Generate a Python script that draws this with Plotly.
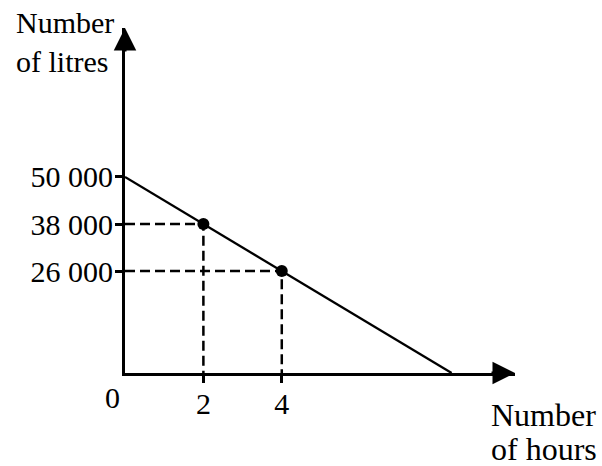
import plotly.graph_objects as go

# values
line_hours = [0, 8.333]
line_litres = [50000, 0]
pt_hours = [2, 4]
pt_litres = [38000, 26000]
y_ticks = [50000, 38000, 26000]
y_ticktext = ["50 000", "38 000", "26 000"]
x_ticks = [2, 4]
x_ticktext = ["2", "4"]

W, H = 602, 466
L, R, T, B = 125, 87, 28, 93
XMAX, YMAX = 9.95, 88000
FONT = "Liberation Serif"


def px(x):
    return (x - L) / (W - L - R)


def py(y):
    return (H - B - y) / (H - T - B)


fig = go.Figure()

# dashed guides from the axes to the two marked points
for h, v in zip(pt_hours, pt_litres):
    fig.add_trace(go.Scatter(x=[0, h, h], y=[v, v, 0], mode="lines",
                             line=dict(color="black", width=2.5, dash="10px,5px")))

fig.add_trace(go.Scatter(x=line_hours, y=line_litres, mode="lines",
                         line=dict(color="black", width=2.3)))
fig.add_trace(go.Scatter(x=pt_hours, y=pt_litres, mode="markers",
                         marker=dict(color="black", size=12)))

axis_common = dict(showgrid=False, zeroline=False, showline=True, linecolor="black",
                   linewidth=3, ticks="outside", ticklen=7, tickwidth=2.5,
                   tickcolor="black", tickfont=dict(family=FONT, size=30, color="black"))

fig.update_xaxes(range=[0, XMAX], tickvals=x_ticks, ticktext=x_ticktext,
                 ticklabelstandoff=-5, **axis_common)
fig.update_yaxes(range=[0, YMAX], tickvals=y_ticks, ticktext=y_ticktext,
                 ticklabelstandoff=-4, **axis_common)

# arrow heads on the axes
fig.add_annotation(x=XMAX, y=0, ax=-25, ay=0, text="", showarrow=True,
                   arrowhead=2, arrowsize=1.5, arrowwidth=3, arrowcolor="black")
fig.add_annotation(x=0, y=YMAX, ax=0, ay=25, text="", showarrow=True,
                   arrowhead=2, arrowsize=1.5, arrowwidth=3, arrowcolor="black")

# axis titles and origin label
for text, xp, yp, size in [("Number", 14, 23, 30), ("of litres", 14, 62, 30),
                           ("Number", 489, 415, 32), ("of hours", 489, 449, 32)]:
    fig.add_annotation(x=px(xp), y=py(yp), xref="paper", yref="paper", xanchor="left",
                       yanchor="middle", showarrow=False, text=text,
                       font=dict(family=FONT, size=size, color="black"))
fig.add_annotation(x=px(112), y=py(397), xref="paper", yref="paper", xanchor="center",
                   yanchor="middle", showarrow=False, text="0",
                   font=dict(family=FONT, size=30, color="black"))

fig.update_layout(width=W, height=H, margin=dict(l=L, r=R, t=T, b=B),
                  plot_bgcolor="white", paper_bgcolor="white", showlegend=False)

fig.write_html("out.html", config={"displayModeBar": False},
               post_script="document.body.style.margin='0';")
